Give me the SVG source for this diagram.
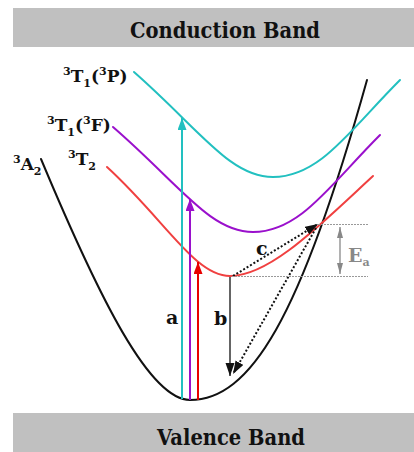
<svg xmlns="http://www.w3.org/2000/svg" width="414" height="452" viewBox="0 0 414 452">
<style>
.band{fill:#c0c0c0}
.bt{font-family:'DejaVu Serif',serif;font-weight:bold;font-size:23px;fill:#111}
.lb{font-family:'DejaVu Serif',serif;font-weight:bold;font-size:17px;fill:#111}
.sm{font-size:11px}
.curve{fill:none;stroke-width:2;stroke-linecap:round}
.dot{fill:none;stroke:#111;stroke-width:2;stroke-dasharray:2 2}
.gd{fill:none;stroke:#999;stroke-width:1;stroke-dasharray:2 1}
</style>
<defs>
<marker id="hc" markerUnits="userSpaceOnUse" markerWidth="10" markerHeight="14" refX="12" refY="4.5" orient="auto"><path d="M0,0 L12,4.5 L0,9 Z" fill="#22c0c0"/></marker>
<marker id="hp" markerUnits="userSpaceOnUse" markerWidth="10" markerHeight="14" refX="12" refY="4.5" orient="auto"><path d="M0,0 L12,4.5 L0,9 Z" fill="#9a10cc"/></marker>
<marker id="hr" markerUnits="userSpaceOnUse" markerWidth="10" markerHeight="14" refX="12" refY="4.5" orient="auto"><path d="M0,0 L12,4.5 L0,9 Z" fill="#e80000"/></marker>
<marker id="hk" markerUnits="userSpaceOnUse" markerWidth="14" markerHeight="10" refX="13" refY="4.5" orient="auto"><path d="M0,0 L13,4.5 L0,9 Z" fill="#111"/></marker>
<marker id="hg" markerUnits="userSpaceOnUse" markerWidth="12" markerHeight="8" refX="11" refY="3" orient="auto-start-reverse"><path d="M0,0 L11,3 L0,6 Z" fill="#888"/></marker>
</defs>
<g id="conduction-band"><rect class="band" x="13" y="8" width="401" height="39"/><text class="bt" x="130" y="38" textLength="190" lengthAdjust="spacingAndGlyphs">Conduction Band</text></g>
<g id="valence-band"><rect class="band" x="13" y="413" width="401" height="39"/><text class="bt" x="157" y="445" textLength="148" lengthAdjust="spacingAndGlyphs">Valence Band</text></g>
<g id="A2"><path class="curve" stroke="#111" d="M41,159 C100,300 150,400 190,400 C250,400 300,320 367,80"/><text class="lb" x="13" y="170"><tspan class="sm" dy="-7">3</tspan><tspan dy="7">A</tspan><tspan class="sm" dy="5">2</tspan></text></g>
<g id="T2"><path class="curve" stroke="#f04040" d="M107,167 C165,220 195,276 230,276 C270,276 320,225 373,176"/><text class="lb" x="68" y="165"><tspan class="sm" dy="-7">3</tspan><tspan dy="7">T</tspan><tspan class="sm" dy="5">2</tspan></text></g>
<g id="T1F"><path class="curve" stroke="#9a10cc" d="M113,127 C180,185 210,232 253,232 C300,232 330,185 380,135"/><text class="lb" x="47" y="131"><tspan class="sm" dy="-7">3</tspan><tspan dy="7">T</tspan><tspan class="sm" dy="5">1</tspan><tspan dy="-5">(</tspan><tspan class="sm" dy="-7">3</tspan><tspan dy="7">F)</tspan></text></g>
<g id="T1P"><path class="curve" stroke="#22c0c0" d="M134,72 C200,130 230,177 273,177 C320,177 350,130 400,80"/><text class="lb" x="63" y="82"><tspan class="sm" dy="-7">3</tspan><tspan dy="7">T</tspan><tspan class="sm" dy="5">1</tspan><tspan dy="-5">(</tspan><tspan class="sm" dy="-7">3</tspan><tspan dy="7">P)</tspan></text></g>
<g id="connectors">
<line x1="182" y1="399" x2="182" y2="118" stroke="#22c0c0" stroke-width="2" marker-end="url(#hc)"/>
<line x1="190" y1="400" x2="190" y2="199" stroke="#9a10cc" stroke-width="2" marker-end="url(#hp)"/>
<line x1="198" y1="400" x2="198" y2="262" stroke="#e80000" stroke-width="2" marker-end="url(#hr)"/>
<line x1="230" y1="277" x2="230" y2="376" stroke="#111" stroke-width="1.3" marker-end="url(#hk)"/>
<line class="dot" x1="233" y1="276" x2="318" y2="224" marker-end="url(#hk)"/>
<line class="dot" x1="316" y1="228" x2="233" y2="374" marker-end="url(#hk)"/>
<line class="gd" x1="318" y1="224.5" x2="368" y2="224.5"/>
<line class="gd" x1="232" y1="276.5" x2="368" y2="276.5"/>
<line x1="340" y1="227" x2="340" y2="274" stroke="#888" stroke-width="1.3" marker-start="url(#hg)" marker-end="url(#hg)"/>
</g>
<g id="labels">
<text class="lb" x="166" y="324" style="font-size:19px">a</text>
<text class="lb" x="214" y="325" style="font-size:19px">b</text>
<text class="lb" x="256" y="255" style="font-size:19px">c</text>
<text class="lb" x="348" y="262" style="fill:#888;font-size:19px">E<tspan class="sm" dy="4">a</tspan></text>
</g>
</svg>
